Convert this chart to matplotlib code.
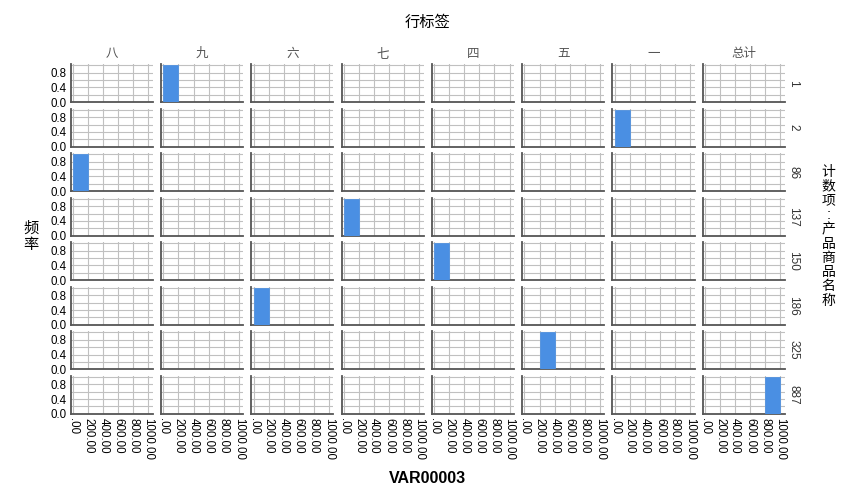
import numpy as np
import matplotlib.pyplot as plt

plt.rcParams['font.family'] = ['Liberation Sans', 'Noto Sans CJK SC', 'DejaVu Sans']

# 行标签 (columns) and VAR00003 values (rows)
col_labels = ['八', '九', '六', '七', '四', '五', '一', '总计']
row_values = [1, 2, 86, 137, 150, 186, 325, 887]
# which column each row value falls into
row_to_col = ['九', '一', '八', '七', '四', '六', '五', '总计']
bins = [0, 200, 400, 600, 800, 1000]
x_ticks = [0, 200, 400, 600, 800, 1000]
x_tick_labels = ['.00', '200.00', '400.00', '600.00', '800.00', '1000.00']
y_ticks = [0.0, 0.4, 0.8]

fig, axes = plt.subplots(8, 8, figsize=(8.54, 5.04), dpi=100, sharex=True, sharey=True)
fig.subplots_adjust(left=0.083, right=0.919, top=0.873, bottom=0.179,
                    wspace=0.10, hspace=0.17)

bar_color = '#4a8fe3'
cjk = ['Noto Sans CJK SC', 'DejaVu Sans']

for i, rv in enumerate(row_values):
    for j, cl in enumerate(col_labels):
        ax = axes[i, j]
        vals = [rv] if row_to_col[i] == cl else []
        if vals:
            ax.hist(vals, bins=bins, color=bar_color, edgecolor=bar_color,
                    linewidth=0.5, zorder=3)
        ax.set_xlim(-30, 1060)
        ax.set_ylim(0, 1.035)
        ax.set_xticks(x_ticks)
        ax.set_yticks(y_ticks)
        ax.set_yticks(np.arange(0.2, 1.01, 0.2), minor=True)
        ax.grid(True, which='both', color='#c0c0c0', linewidth=0.8, zorder=0)
        ax.set_axisbelow(True)
        for s in ['top', 'right']:
            ax.spines[s].set_visible(False)
        for s in ['left', 'bottom']:
            ax.spines[s].set_color('#555555')
            ax.spines[s].set_linewidth(1.3)
        ax.tick_params(which='both', length=0, labelsize=8.3, pad=3)
        if j == 0:
            ax.set_yticklabels(['0.0', '0.4', '0.8'])
        else:
            ax.tick_params(labelleft=False)
        if i == 7:
            ax.set_xticklabels(x_tick_labels, rotation=-90)
        else:
            ax.tick_params(labelbottom=False)
        if i == 0:
            ax.text(0.5, 1.27, cl, transform=ax.transAxes, ha='center', va='center',
                    fontsize=9, color='#555555', family=cjk)
        if j == 7:
            ax.text(1.1, 0.5, str(rv), transform=ax.transAxes, rotation=-90,
                    ha='center', va='center', fontsize=8.5, color='#333333')

fig.text(0.501, 0.955, '行标签', ha='center', va='center', fontsize=11, family=cjk)
fig.text(0.501, 0.050, 'VAR00003', ha='center', va='center', fontsize=11.5,
         fontweight='semibold')

# vertical stacked labels, one character per line
for k, ch in enumerate('频率'):
    fig.text(0.036, 1 - (228 + 17 * k) / 504, ch, ha='center', va='center',
             fontsize=11, family=cjk)
for k, ch in enumerate('计数项:产品商品名称'):
    fam = ['Liberation Sans'] if ch == ':' else cjk
    fig.text(0.970, 1 - (172 + 14.3 * k) / 504, ch, ha='center', va='center',
             fontsize=10.5 if ch == ':' else 10, family=fam)

fig.savefig('out.png', dpi=100)
